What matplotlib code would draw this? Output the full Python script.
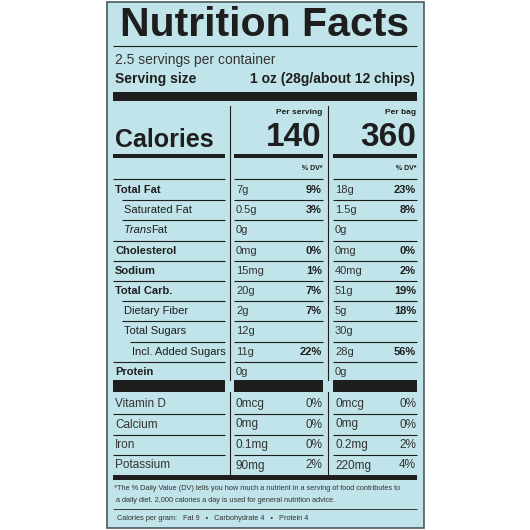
import matplotlib
matplotlib.use('Agg')
import matplotlib.pyplot as plt

plt.rcParams['font.family'] = ['Liberation Sans', 'DejaVu Sans']

# nutrient rows
names = ['Total Fat', 'Saturated Fat', 'Trans Fat', 'Cholesterol', 'Sodium',
         'Total Carb.', 'Dietary Fiber', 'Total Sugars', 'Incl. Added Sugars', 'Protein']
bold = [True, False, False, True, True, True, False, False, False, True]
indent = [0, 1, 1, 0, 0, 0, 1, 1, 2, 0]
serv_amt = ['7g', '0.5g', '0g', '0mg', '15mg', '20g', '2g', '12g', '11g', '0g']
serv_dv = ['9%', '3%', '', '0%', '1%', '7%', '7%', '', '22%', '']
bag_amt = ['18g', '1.5g', '0g', '0mg', '40mg', '51g', '5g', '30g', '28g', '0g']
bag_dv = ['23%', '8%', '', '0%', '2%', '19%', '18%', '', '56%', '']

# vitamins / minerals
vit_names = ['Vitamin D', 'Calcium', 'Iron', 'Potassium']
vit_serv_amt = ['0mcg', '0mg', '0.1mg', '90mg']
vit_serv_dv = ['0%', '0%', '0%', '2%']
vit_bag_amt = ['0mcg', '0mg', '0.2mg', '220mg']
vit_bag_dv = ['0%', '0%', '2%', '4%']

servings = '2.5 servings per container'
serving_size = '1 oz (28g/about 12 chips)'
cal_serv = '140'
cal_bag = '360'

BG = '#c0e4e9'
INK = '#1e1e1e'

fig = plt.figure(figsize=(5.3, 5.3), dpi=100)
ax = fig.add_axes([0, 0, 1, 1])
ax.set_xlim(0, 530)
ax.set_ylim(530, 0)
ax.axis('off')

ax.add_patch(plt.Rectangle((107, 2), 317, 526, facecolor=BG, edgecolor='#4a5a5c', lw=1.2))

L, R = 113, 417
c1, c2 = 230, 328   # column dividers
cols = [(L, 225), (234, 323), (333, R)]

def hline(y, x0, x1, lw=0.8):
    ax.plot([x0, x1], [y, y], color=INK, lw=lw, solid_capstyle='butt')

def bar(y, h, x0, x1):
    ax.add_patch(plt.Rectangle((x0, y), x1 - x0, h, facecolor=INK, edgecolor='none'))

ax.text(265, 25, 'Nutrition Facts', fontsize=29.5, fontweight='bold', ha='center', va='center', color=INK)
hline(46, L, R)
ax.text(L + 2, 60, servings, fontsize=10, va='center', color='#333333')
ax.text(L + 2, 79, 'Serving size', fontsize=10, fontweight='bold', va='center', color=INK)
ax.text(R - 2, 79, serving_size, fontsize=10, fontweight='bold', va='center', ha='right', color=INK)
bar(92, 9, L, R)

# column dividers
for c in (c1, c2):
    ax.plot([c, c], [106, 380], color=INK, lw=0.8)
    ax.plot([c, c], [392, 476], color=INK, lw=0.8)

ax.text(L + 2, 140, 'Calories', fontsize=18, fontweight='bold', va='center', color=INK)
ax.text(cols[1][1] - 1, 113, 'Per serving', fontsize=6, fontweight='bold', ha='right', va='center', color=INK)
ax.text(cols[2][1] - 1, 113, 'Per bag', fontsize=6, fontweight='bold', ha='right', va='center', color=INK)
ax.text(cols[1][1] - 1, 138, cal_serv, fontsize=24, fontweight='bold', ha='right', va='center', color=INK)
ax.text(cols[2][1] - 1, 138, cal_bag, fontsize=24, fontweight='bold', ha='right', va='center', color=INK)
for x0, x1 in cols:
    bar(154, 4, x0, x1)
    hline(179, x0, x1)
ax.text(cols[1][1] - 1, 168, '% DV*', fontsize=5, fontweight='bold', ha='right', va='center', color=INK)
ax.text(cols[2][1] - 1, 168, '% DV*', fontsize=5, fontweight='bold', ha='right', va='center', color=INK)

fs = 8
y0, dy = 190, 20.2
for i, name in enumerate(names):
    y = y0 + i * dy
    w = 'bold' if bold[i] else 'normal'
    ix = L + 2 + [0, 9, 17][indent[i]]
    if name == 'Trans Fat':
        ax.text(ix, y, 'Trans', fontsize=fs, style='italic', va='center', color=INK)
        ax.text(ix + 27, y, 'Fat', fontsize=fs, va='center', color=INK)
    else:
        ax.text(ix, y, name, fontsize=fs, fontweight=w, va='center', color=INK)
    ax.text(cols[1][0] + 2, y, serv_amt[i], fontsize=fs, va='center', color='#333333')
    ax.text(cols[1][1] - 1, y, serv_dv[i], fontsize=fs, fontweight='bold', ha='right', va='center', color=INK)
    ax.text(cols[2][0] + 2, y, bag_amt[i], fontsize=fs, va='center', color='#333333')
    ax.text(cols[2][1] - 1, y, bag_dv[i], fontsize=fs, fontweight='bold', ha='right', va='center', color=INK)
    if i < len(names) - 1:
        yl = y + dy / 2
        nx = L + [0, 9, 17][indent[i + 1]]
        hline(yl, nx, cols[0][1])
        hline(yl, cols[1][0], cols[1][1])
        hline(yl, cols[2][0], cols[2][1])

for x0, x1 in cols:
    bar(380, 12, x0, x1)

v0, vdy = 404, 20.5
for i, name in enumerate(vit_names):
    y = v0 + i * vdy
    ax.text(L + 2, y, name, fontsize=8.5, va='center', color='#333333')
    ax.text(cols[1][0] + 2, y, vit_serv_amt[i], fontsize=8.5, va='center', color='#333333')
    ax.text(cols[1][1] - 1, y, vit_serv_dv[i], fontsize=8.5, ha='right', va='center', color='#333333')
    ax.text(cols[2][0] + 2, y, vit_bag_amt[i], fontsize=8.5, va='center', color='#333333')
    ax.text(cols[2][1] - 1, y, vit_bag_dv[i], fontsize=8.5, ha='right', va='center', color='#333333')
    if i < len(vit_names) - 1:
        for x0, x1 in cols:
            hline(y + vdy / 2, x0, x1)

bar(475, 5, L, R)
ax.text(L + 1, 489, '*The % Daily Value (DV) tells you how much a nutrient in a serving of food contributes to',
        fontsize=5.3, va='center', color='#333333')
ax.text(L + 3, 501, 'a daily diet. 2,000 calories a day is used for general nutrition advice.',
        fontsize=5.3, va='center', color='#333333')
hline(509, L, R, lw=0.6)
ax.text(L + 4, 518, 'Calories per gram:   Fat 9   \u2022   Carbohydrate 4   \u2022   Protein 4',
        fontsize=5.3, va='center', color='#333333')

fig.savefig('out.png', dpi=100, facecolor='white')
